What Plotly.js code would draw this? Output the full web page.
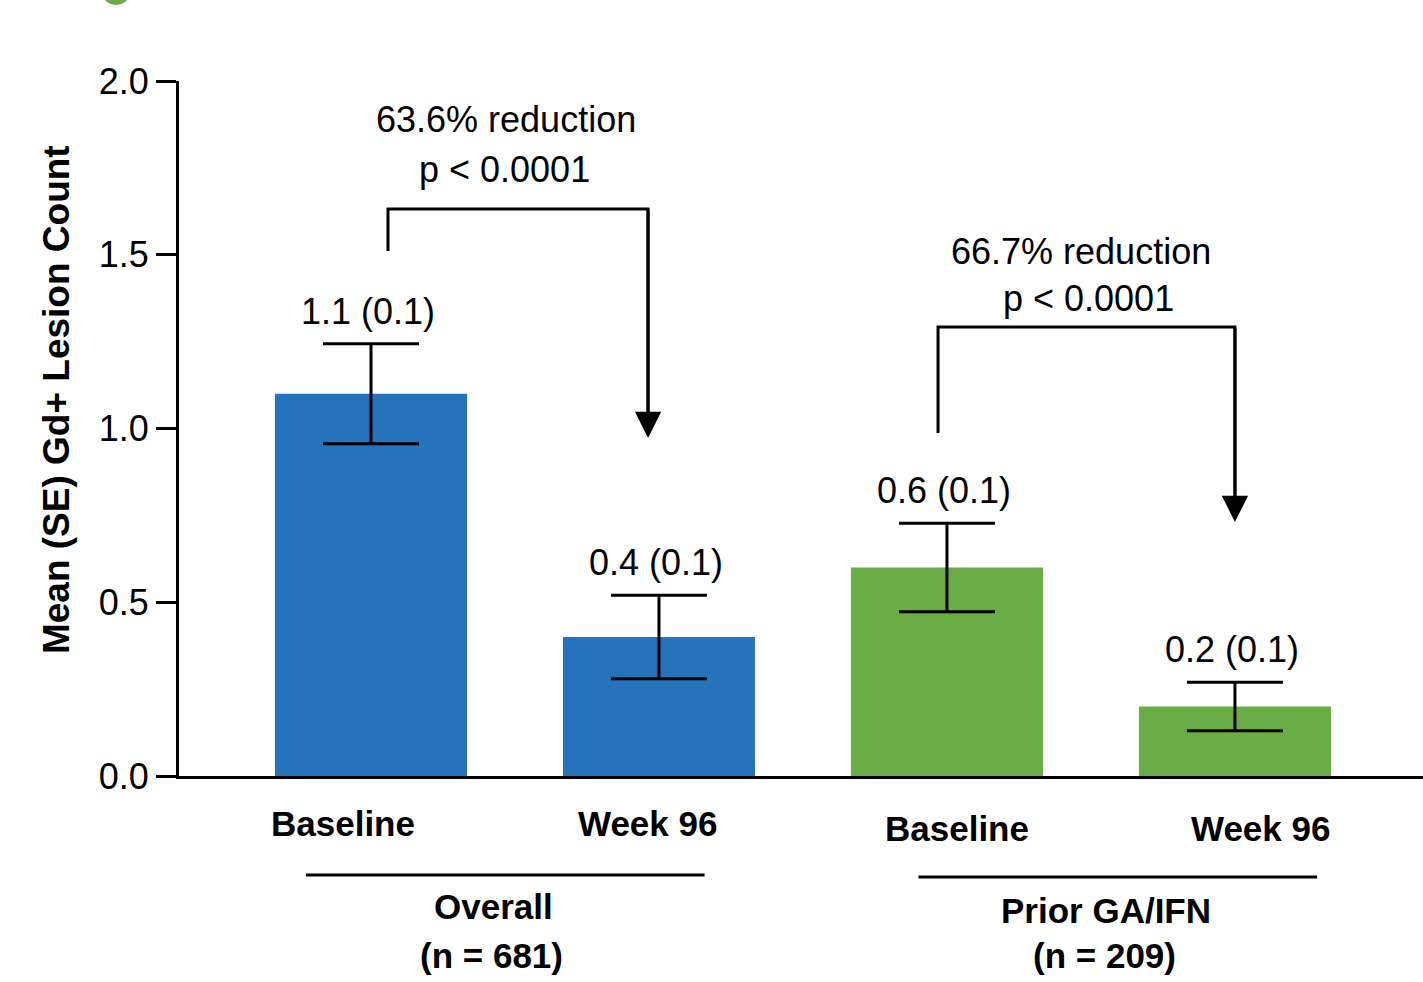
<!DOCTYPE html>
<html>
<head>
<meta charset="utf-8">
<script src="https://cdn.plot.ly/plotly-3.0.1.min.js"></script>
<style>html,body{margin:0;padding:0;background:#fff;}#chart{width:1423px;height:982px;}</style>
</head>
<body>
<div id="chart"></div>
<script>
// ---- data ----
const categories = ['Baseline', 'Week 96', 'Baseline', 'Week 96'];
const means = [1.1, 0.4, 0.6, 0.2];
const seErr = [0.144, 0.12, 0.127, 0.07];
const valueLabels = ['1.1 (0.1)', '0.4 (0.1)', '0.6 (0.1)', '0.2 (0.1)'];
const groupNames = ['Overall', 'Prior GA/IFN'];
const groupNs = ['(n = 681)', '(n = 209)'];
const reductions = ['63.6% reduction', '66.7% reduction'];
const pValues = ['p < 0.0001', 'p < 0.0001'];
const yTicks = [0, 0.5, 1.0, 1.5, 2.0];

// ---- styles ----
const BLUE = '#2673BC', GREEN = '#6AAD46';
const barColors = [BLUE, BLUE, GREEN, GREEN];
const FONT = 'Liberation Sans, Arial, Helvetica, sans-serif';
const REG = 36, BOLD = 35;
const xIdx = categories.map((_, i) => i);

const trace = {
  type: 'bar',
  x: xIdx,
  y: means,
  width: 0.667,
  marker: {color: barColors, line: {width: 0}},
  error_y: {type: 'data', array: seErr, visible: true, color: '#000', thickness: 3, width: 48},
  hoverinfo: 'skip',
  showlegend: false
};

const annotations = [];
// value labels above error bars
xIdx.forEach(i => {
  annotations.push({
    xref: 'x', yref: 'y', x: i, y: means[i] + seErr[i],
    xanchor: 'center', yanchor: 'bottom', yshift: 10, xshift: -3,
    text: valueLabels[i], showarrow: false,
    font: {family: FONT, size: REG, color: '#000'}
  });
});
// category labels
const catShift = [-28, -11, 10, 26];
const catY = [-0.068, -0.068, -0.075, -0.075];
xIdx.forEach(i => {
  annotations.push({
    xref: 'x', yref: 'paper', x: i, y: catY[i], xshift: catShift[i],
    xanchor: 'center', yanchor: 'middle',
    text: '<b>' + categories[i] + '</b>', showarrow: false,
    font: {family: FONT, size: BOLD, color: '#000'}
  });
});
// group labels
const groupX = [0.424, 2.552];
const groupY = [-0.188, -0.193];
groupNames.forEach((g, k) => {
  annotations.push({
    xref: 'x', yref: 'paper', x: groupX[k], y: groupY[k],
    xanchor: 'center', yanchor: 'middle', showarrow: false,
    text: '<b>' + g + '</b>', font: {family: FONT, size: BOLD, color: '#000'}
  });
  annotations.push({
    xref: 'x', yref: 'paper', x: groupX[k] - 0.005, y: -0.2576,
    xanchor: 'center', yanchor: 'middle', showarrow: false,
    text: '<b>' + groupNs[k] + '</b>', font: {family: FONT, size: BOLD, color: '#000'}
  });
});
// reduction texts
const redPos = [[0.469, 1.888], [2.465, 1.508]];
const pPos = [[0.465, 1.744], [2.49, 1.373]];
reductions.forEach((r, k) => {
  annotations.push({
    xref: 'x', yref: 'y', x: redPos[k][0], y: redPos[k][1],
    xanchor: 'center', yanchor: 'middle', showarrow: false,
    text: r, font: {family: FONT, size: REG, color: '#000'}
  });
  annotations.push({
    xref: 'x', yref: 'y', x: pPos[k][0], y: pPos[k][1],
    xanchor: 'center', yanchor: 'middle', showarrow: false,
    text: pValues[k], font: {family: FONT, size: REG, color: '#000'}
  });
});
// brackets: [leftX, leftBottomY, topY, rightX, tipY]
const brackets = [[0.059, 1.511, 1.632, 0.962, 0.973], [1.969, 0.987, 1.292, 3.0, 0.731]];
const shapes = [];
brackets.forEach(b => {
  shapes.push({
    type: 'path', xref: 'x', yref: 'y',
    path: `M ${b[0]},${b[1]} V ${b[2]} H ${b[3]} V ${b[4] + 0.06}`,
    line: {color: '#000', width: 3}
  });
  annotations.push({
    xref: 'x', yref: 'y', axref: 'x', ayref: 'y',
    x: b[3], y: b[4], ax: b[3], ay: b[2],
    text: '', showarrow: true, arrowhead: 2, arrowsize: 1.75, arrowwidth: 3,
    arrowcolor: '#000', standoff: 0, startstandoff: 0
  });
});
// y title
annotations.push({
  xref: 'paper', yref: 'paper', x: -0.0988, y: 0.541,
  xanchor: 'center', yanchor: 'middle', textangle: -90, showarrow: false,
  text: '<b>Mean (SE) Gd+ Lesion Count</b>', font: {family: FONT, size: 37, color: '#000'}
});
// group underline lines
shapes.push({type: 'line', xref: 'paper', yref: 'paper', x0: 0.102, x1: 0.4225, y0: -0.1424, y1: -0.1424, line: {color: '#000', width: 3}});
shapes.push({type: 'line', xref: 'paper', yref: 'paper', x0: 0.5944, x1: 0.9149, y0: -0.1453, y1: -0.1453, line: {color: '#000', width: 3}});
// green decoration (cropped) at top-left
shapes.push({type: 'circle', xref: 'paper', yref: 'paper', x0: -0.0627, x1: -0.0386, y0: 1.1094, y1: 1.1525, fillcolor: GREEN, line: {width: 0}});

const layout = {
  width: 1423, height: 982,
  margin: {l: 179, r: 0, t: 81, b: 206, pad: 0},
  paper_bgcolor: '#fff', plot_bgcolor: '#fff',
  font: {family: FONT, color: '#000'},
  showlegend: false,
  xaxis: {
    range: [-0.6667, 3.653], showline: true, linewidth: 3, linecolor: '#000',
    showticklabels: false, ticks: '', showgrid: false, zeroline: false, fixedrange: true
  },
  yaxis: {
    range: [0, 2], tickvals: yTicks, tickformat: '.1f', ticks: 'outside', ticklen: 20, tickwidth: 3,
    tickcolor: '#000', showline: true, linewidth: 3, linecolor: '#000', showgrid: false, zeroline: false,
    tickfont: {family: FONT, size: REG, color: '#000'}, fixedrange: true
  },
  annotations: annotations,
  shapes: shapes
};

Plotly.newPlot('chart', [trace], layout, {displayModeBar: false, staticPlot: true});
</script>
</body>
</html>
